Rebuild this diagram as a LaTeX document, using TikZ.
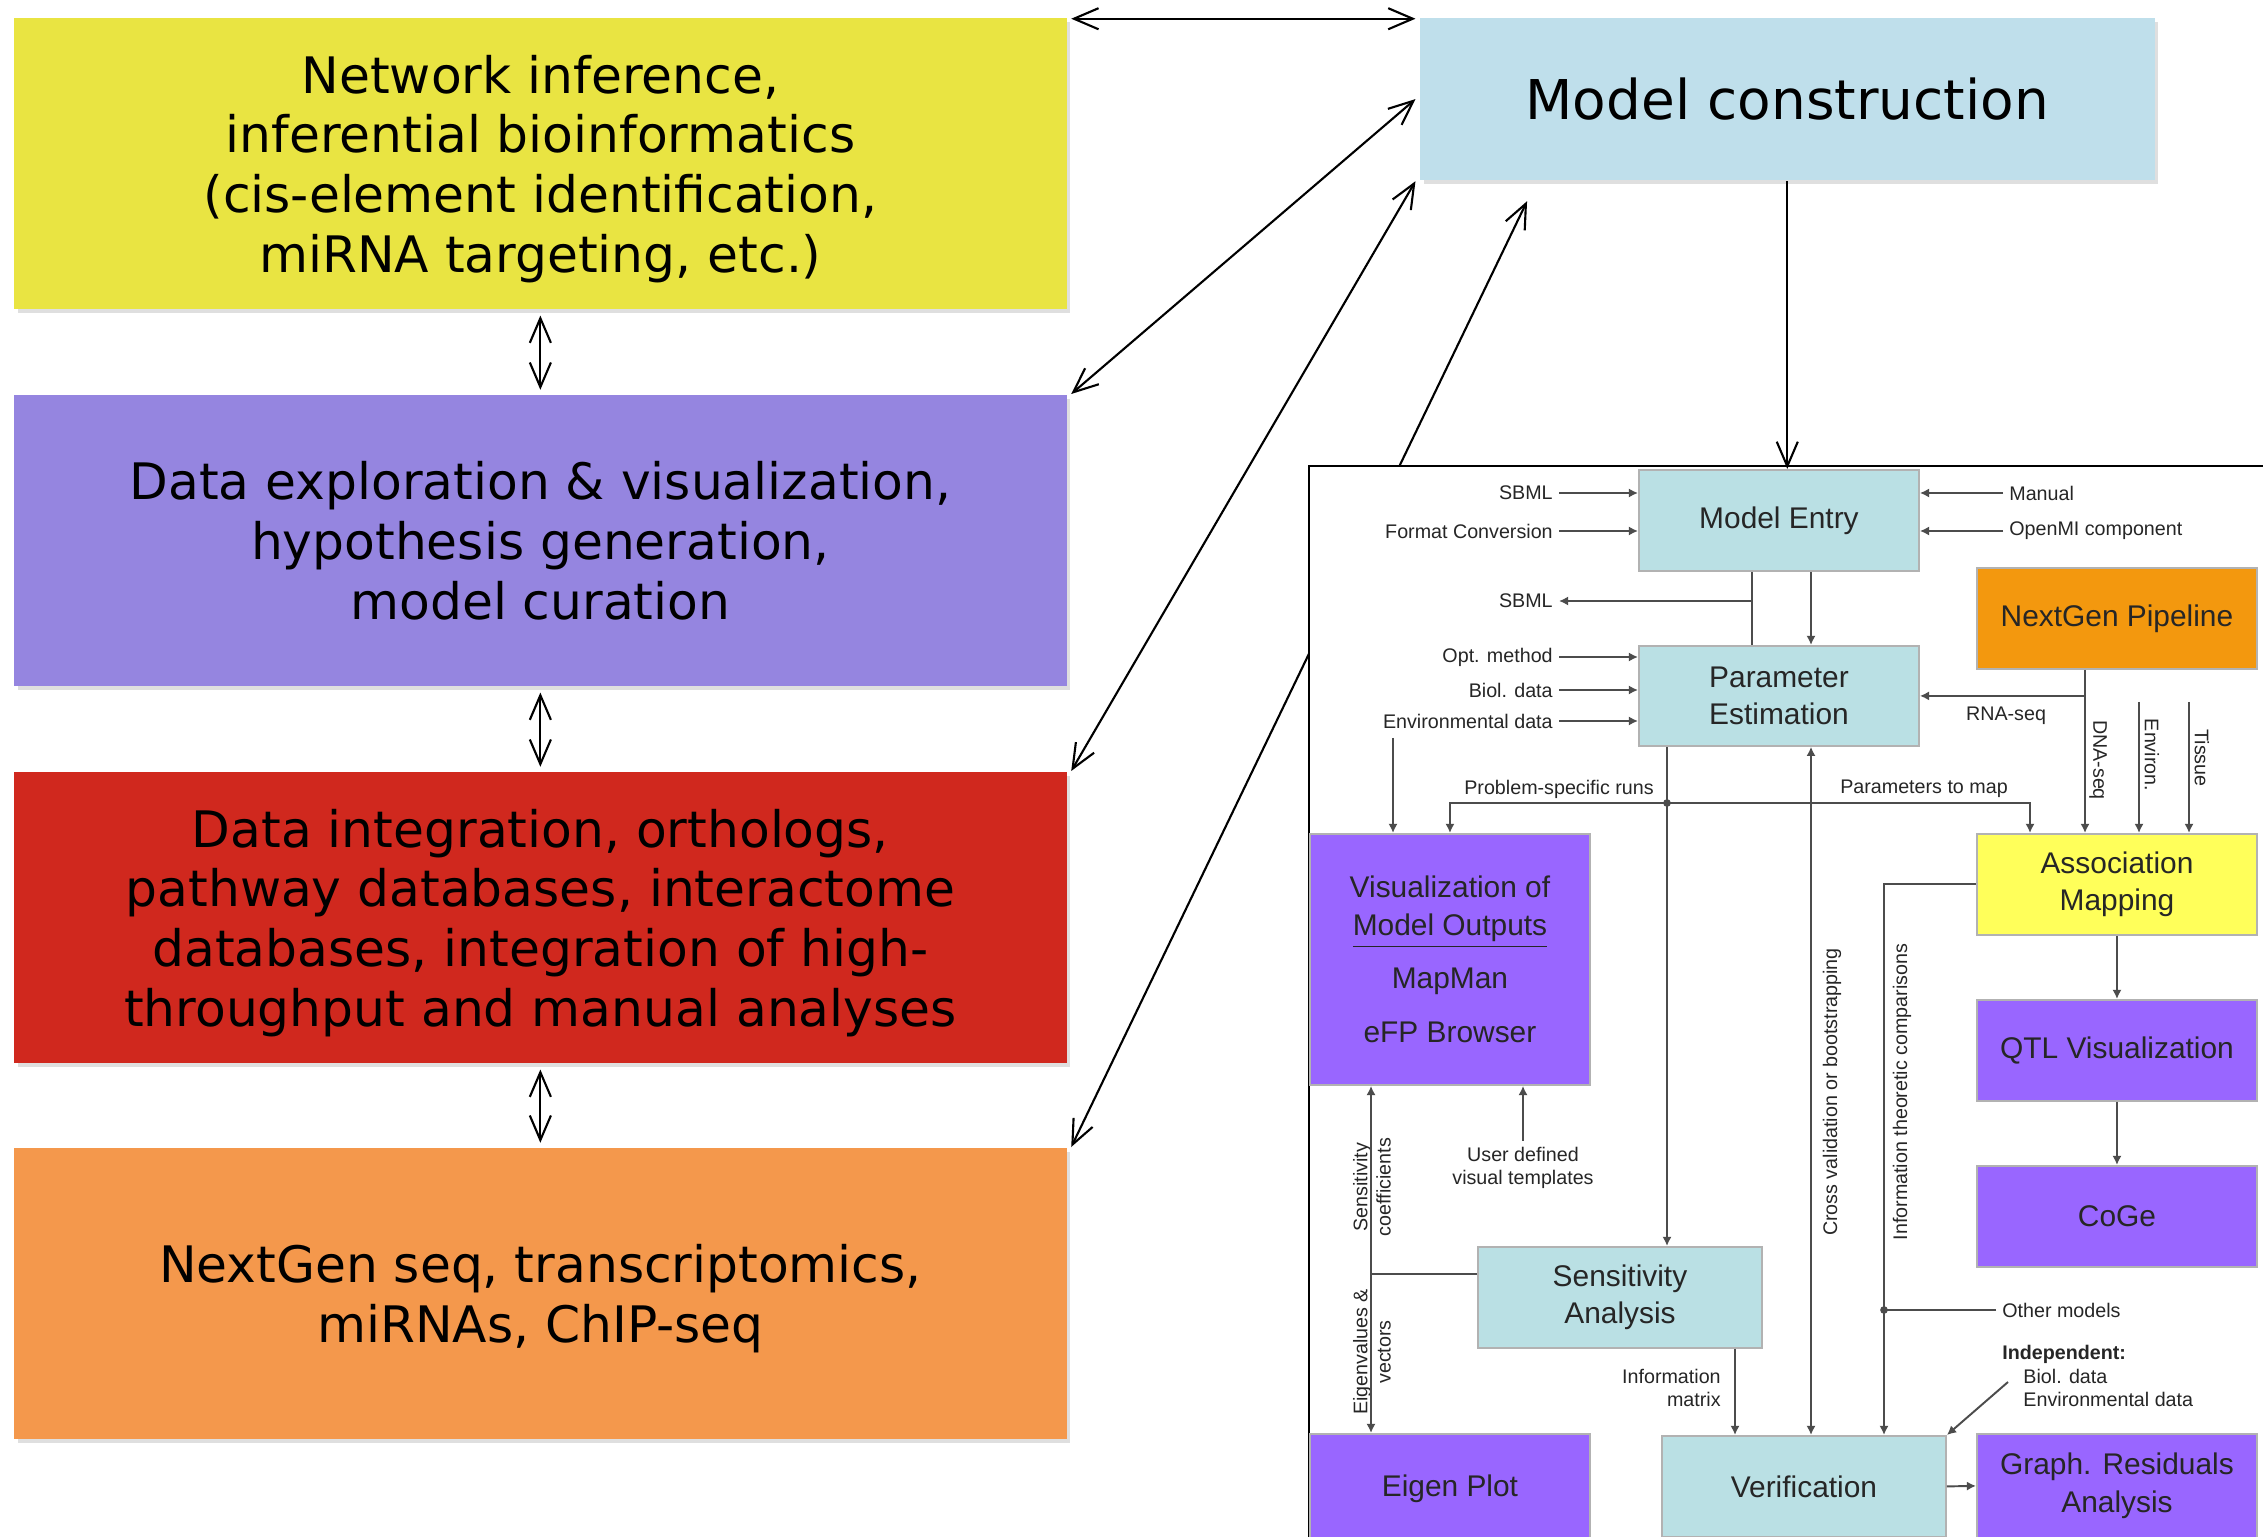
\documentclass[tikz,border=0pt]{standalone}
\usepackage{fontspec}
\setmainfont{DejaVu Sans}
\newfontfamily\insetfont{Liberation Sans}
\usetikzlibrary{arrows.meta,shadows}

\definecolor{netyellow}{RGB}{233,228,66}
\definecolor{explopurple}{RGB}{149,133,224}
\definecolor{integred}{RGB}{208,40,30}
\definecolor{seqorange}{RGB}{244,152,76}
\definecolor{modelblue}{RGB}{191,223,235}
\definecolor{boxteal}{RGB}{186,224,228}
\definecolor{boxpurple}{RGB}{153,102,255}
\definecolor{boxorange}{RGB}{243,152,14}
\definecolor{boxyellow}{RGB}{255,255,90}

\tikzset{
  bigbox/.style={anchor=north west, inner sep=0pt, minimum width=10.52cm, minimum height=2.91cm, align=center,
    text depth=0pt, font=\fontsize{14.3}{17}\selectfont, drop shadow={shadow xshift=1pt, shadow yshift=-1.2pt, opacity=.25}},
  smallbox/.style={anchor=north west, inner sep=0pt, minimum width=2.8cm, minimum height=1.01cm, align=center,
    draw=black!30, line width=0.5pt, text=black!85, font=\insetfont\fontsize{8.5}{10.7}\selectfont},
  lab/.style={inner sep=1.5pt, text=black!85, font=\insetfont\fontsize{5.6}{6.6}\selectfont},
  ln/.style={draw=black!70, line width=0.55pt, >={Latex[length=2.6pt,width=2.6pt]}},
}

\begin{document}
\begin{tikzpicture}[x=0.01cm, y=-0.01cm, >={Straight Barb[length=7pt,width=6pt]}, line width=0.6pt]
\useasboundingbox (0,0) rectangle (2263,1537);
% left column and model box
\node[bigbox, fill=netyellow] (net) at (13,17) {Network inference,\\inferential bioinformatics\\(cis-element identification,\\miRNA targeting, etc.)};
\node[bigbox, fill=explopurple] (explo) at (13,394) {Data exploration \& visualization,\\hypothesis generation,\\model curation};
\node[bigbox, fill=integred] (integ) at (13,771) {Data integration, orthologs,\\pathway databases, interactome\\databases, integration of high-\\throughput and manual analyses};
\node[bigbox, fill=seqorange] (seq) at (13,1147) {NextGen seq, transcriptomics,\\miRNAs, ChIP-seq};
\node[bigbox, fill=modelblue, minimum width=7.34cm, minimum height=1.62cm, font=\fontsize{15.6}{19}\selectfont] (model) at (1419,17) {Model construction};

\draw[<->] ([xshift=1pt,yshift=-0.5pt]net.north east) -- ([xshift=-1pt,yshift=-0.5pt]model.north west);
\draw[<->, shorten <=1.5pt, shorten >=1.2pt] (net.south) -- (explo.north);
\draw[<->, shorten <=1.5pt, shorten >=1.2pt] (explo.south) -- (integ.north);
\draw[<->, shorten <=1.5pt, shorten >=1.2pt] (integ.south) -- (seq.north);
\draw[<->] ([xshift=1pt]explo.north east) -- ([xshift=-1pt]model.west);
\draw[<->] ([xshift=1pt]integ.north east) -- ([xshift=-1pt]model.south west);
\draw[<->] ([xshift=1pt]seq.north east) -- ([xshift=1.08cm,yshift=-0.2cm]model.south west);

% inset figure
\filldraw[fill=white, line width=0.75pt] (1309,1560) -- (1309,466) -- (2290,466) -- (2290,1560);

\node[smallbox, fill=boxteal] (entry) at (1638,469) {Model Entry};
\node[smallbox, fill=boxteal, minimum height=1cm] (param) at (1638,645) {Parameter\\Estimation};
\node[smallbox, fill=boxorange] (ngen) at (1976,567) {NextGen Pipeline};
\node[smallbox, fill=boxyellow] (assoc) at (1976,833) {Association\\Mapping};
\node[smallbox, fill=boxpurple, minimum height=2.51cm] (vis) at (1309,833) {Visualization of\\\underline{Model Outputs}\\[4.6pt]MapMan\\[4.6pt]eFP Browser};
\node[smallbox, fill=boxpurple] (qtl) at (1976,999) {QTL Visualization};
\node[smallbox, fill=boxpurple] (coge) at (1976,1165) {CoGe};
\node[smallbox, fill=boxteal, minimum width=2.84cm] (sens) at (1477,1246) {Sensitivity\\Analysis};
\node[smallbox, fill=boxpurple, minimum height=1.1cm] (eigen) at (1309,1433) {Eigen Plot};
\node[smallbox, fill=boxteal, minimum width=2.84cm] (verif) at (1661,1435) {Verification};
\node[smallbox, fill=boxpurple, minimum height=1.04cm] (resid) at (1976,1433) {Graph. Residuals\\Analysis};

\draw[->] (model.south) -- (model.south |- entry.north);

\node[lab, anchor=east] (lsbmlin) at (1559,493) {SBML};
\node[lab, anchor=east] (lfmt) at (1559,531) {Format Conversion};
\node[lab, anchor=east] (lsbmlout) at (1559,601) {SBML};
\node[lab, anchor=east] (lopt) at (1559,657) {Opt. method};
\node[lab, anchor=east] (lbiol) at (1559,690) {Biol. data};
\node[lab, anchor=east] (lenv) at (1559,721) {Environmental data};
\node[lab, anchor=west] (lman) at (2003,493) {Manual};
\node[lab, anchor=west] (lopenmi) at (2003,531) {OpenMI component};
\node[lab] (lrna) at (2006,716) {RNA-seq};
\node[lab, rotate=-90] (ldna) at (2098,760) {DNA-seq};
\node[lab, rotate=-90] (lenviron) at (2152,755) {Environ.};
\node[lab, rotate=-90] (ltissue) at (2202,758) {Tissue};
\node[lab] (lprob) at (1559,789) {Problem-specific runs};
\node[lab] (lpar) at (1924,789) {Parameters to map};
\node[lab, rotate=90, align=center] (lsenscoef) at (1372,1187) {Sensitivity\\coefficients};
\node[lab, rotate=90, align=center] (leigvec) at (1372,1352) {Eigenvalues \&\\vectors};
\node[lab, rotate=90] (lcross) at (1832,1092) {Cross validation or bootstrapping};
\node[lab, rotate=90] (linfo) at (1902,1092) {Information theoretic comparisons};
\node[lab, anchor=east, align=right] (linfomat) at (1727,1388) {Information\\matrix};
\node[lab, align=center] (luser) at (1523,1168) {User defined\\visual templates};
\node[lab, anchor=west] (lother) at (1996,1310) {Other models};
\node[lab, anchor=west, align=left] (lindep) at (1996,1376) {\textbf{Independent:}\\\hspace{6pt}Biol. data\\\hspace{6pt}Environmental data};

\coordinate (sbmlx) at (1752,0);
\coordinate (ctrx) at (1811,0);
\coordinate (dnax) at (2085,0);
\coordinate (parx) at (2030,0);
\coordinate (infx) at (1735,0);
\coordinate (itx) at (1884,0);
\coordinate (junc) at (1667,803);
\coordinate (envdat) at (1393,738);
\coordinate (sensx) at (1371,1274);
\coordinate (envon) at (2139,702);
\coordinate (tissue) at (2189,702);
\coordinate (indep) at (2008,1382);

\draw[ln,->] (lsbmlin) -- (lsbmlin -| entry.west);
\draw[ln,->] (lfmt) -- (lfmt -| entry.west);
\draw[ln,->] (lman) -- (lman -| entry.east);
\draw[ln,->] (lopenmi) -- (lopenmi -| entry.east);
\draw[ln] (entry.south -| sbmlx) -- (param.north -| sbmlx);
\draw[ln,->] (lsbmlout -| sbmlx) -- (lsbmlout);
\draw[ln,->] (entry.south -| ctrx) -- (param.north -| ctrx);
\draw[ln,->] (lopt) -- (lopt -| param.west);
\draw[ln,->] (lbiol) -- (lbiol -| param.west);
\draw[ln,->] (lenv) -- (lenv -| param.west);
\draw[ln,->] (ngen.south -| dnax) -- (assoc.north -| dnax);
\draw[ln,->] (param.east -| dnax) -- (param.east);
\draw[ln,->] (envon) -- (envon |- assoc.north);
\draw[ln,->] (tissue) -- (tissue |- assoc.north);
\draw[ln,->] (param.south -| junc) -- (sens.north -| junc);
\draw[ln,->] (junc) -| (vis.north);
\draw[ln,->] (junc) -| (assoc.north -| parx);
\fill[black!70] (junc) circle (1.1pt);
\draw[ln,->] (envdat) -- (envdat |- vis.north);
\draw[ln,->] (sensx) -- (sensx |- vis.south);
\draw[ln,->] (sensx) -- (sensx |- eigen.north);
\draw[ln] (sens.west |- sensx) -- (sensx);
\draw[ln,->] (luser) -- (luser.north |- vis.south);
\draw[ln,->] (sens.south -| infx) -- (verif.north -| infx);
\draw[ln,<->] (param.south -| ctrx) -- (verif.north -| ctrx);
\draw[ln,->] (assoc.west) -| (verif.north -| itx);
\draw[ln] (lother) -- (lother -| itx);
\fill[black!70] (lother -| itx) circle (1.1pt);
\draw[ln,->] (indep) -- (verif.north east);
\draw[ln,->] (verif.east) -- (resid.west);
\draw[ln,->] (assoc.south) -- (qtl.north);
\draw[ln,->] (qtl.south) -- (coge.north);
\end{tikzpicture}
\end{document}
